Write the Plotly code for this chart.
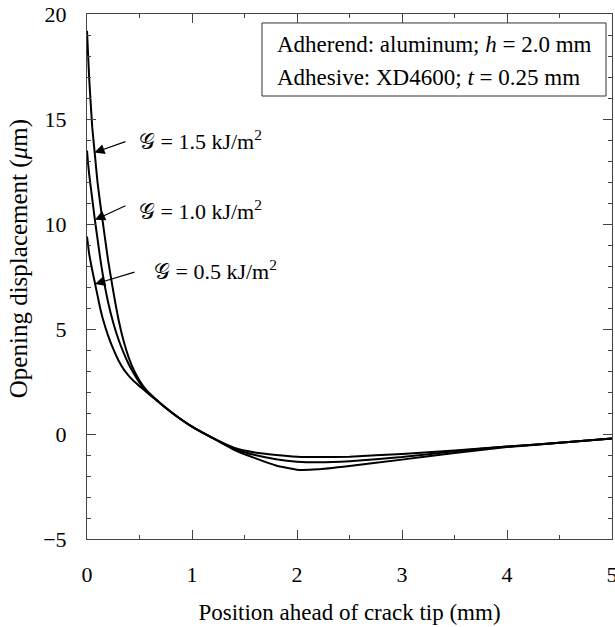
import plotly.graph_objects as go

# Position ahead of crack tip (mm)
x_pos = [0, 0.01, 0.02, 0.05, 0.075, 0.1, 0.125, 0.15, 0.2, 0.25, 0.3, 0.35, 0.4, 0.45, 0.5, 0.56,
         0.65, 0.8, 1.0, 1.2, 1.4, 1.6, 1.8, 2.0, 2.2, 2.5, 3.0, 3.5, 4.0, 4.5, 5.0]

# Opening displacement (um) for each energy release rate
g05 = [9.4, 9.0, 8.6, 7.8, 7.2, 6.6, 6.0, 5.5, 4.7, 4.05, 3.5, 3.08, 2.76, 2.5, 2.28, 2.03,
       1.65, 1.05, 0.35, -0.2, -0.65, -0.88, -1.0, -1.08, -1.1, -1.08, -0.95, -0.78, -0.6, -0.42, -0.22]
g10 = [13.5, 12.9, 12.4, 11.2, 10.2, 9.3, 8.4, 7.6, 6.3, 5.3, 4.5, 3.85, 3.3, 2.85, 2.45, 2.08,
       1.67, 1.05, 0.35, -0.2, -0.7, -1.0, -1.2, -1.32, -1.35, -1.3, -1.1, -0.82, -0.6, -0.42, -0.22]
g15 = [19.2, 18.1, 17.0, 14.6, 13.3, 12.0, 11.0, 10.1, 8.3, 6.8, 5.45, 4.4, 3.6, 3.0, 2.55, 2.12,
       1.68, 1.05, 0.35, -0.2, -0.75, -1.15, -1.5, -1.7, -1.68, -1.52, -1.22, -0.9, -0.62, -0.42, -0.22]

series_names = ["G = 0.5 kJ/m2", "G = 1.0 kJ/m2", "G = 1.5 kJ/m2"]
label_texts = ["𝒢 = 0.5 kJ/m<sup>2</sup>", "𝒢 = 1.0 kJ/m<sup>2</sup>", "𝒢 = 1.5 kJ/m<sup>2</sup>"]
label_pos = [(0.62, 7.8), (0.48, 10.67), (0.476, 14.0)]
arrow_tail = [(0.467, 7.73), (0.38, 10.9), (0.38, 13.95)]
arrow_tip = [(0.076, 7.14), (0.076, 10.2), (0.07, 13.4)]

FONT = "Liberation Serif"

fig = go.Figure()
for name, ys in zip(series_names, [g05, g10, g15]):
    fig.add_trace(go.Scatter(x=x_pos, y=ys, mode="lines", name=name,
                             line=dict(color="black", width=2, shape="spline", smoothing=0.4),
                             showlegend=False, hoverinfo="skip"))

annotations = []
for txt, (lx, ly), (tx, ty), (hx, hy) in zip(label_texts, label_pos, arrow_tail, arrow_tip):
    annotations.append(dict(x=lx, y=ly, xref="x", yref="y", text=txt, showarrow=False,
                            xanchor="left", yanchor="middle",
                            font=dict(family=FONT, size=22, color="black")))
    annotations.append(dict(x=hx, y=hy, ax=tx, ay=ty, xref="x", yref="y", axref="x", ayref="y",
                            text="", showarrow=True, arrowhead=2, arrowsize=1.7, arrowwidth=1.2,
                            arrowcolor="black", standoff=0, startstandoff=0))

annotations.append(dict(x=0.358, y=0.941, xref="paper", yref="paper", xanchor="left", yanchor="middle",
                        text="Adherend: aluminum; <i>h</i> = 2.0 mm", showarrow=False,
                        font=dict(family=FONT, size=23, color="black")))
annotations.append(dict(x=0.358, y=0.880, xref="paper", yref="paper", xanchor="left", yanchor="middle",
                        text="Adhesive: XD4600; <i>t</i> = 0.25 mm", showarrow=False,
                        font=dict(family=FONT, size=23, color="black")))
# y-axis title (placed as rotated text, slightly above the axis centre as in the original)
annotations.append(dict(x=-0.1295, y=0.533, xref="paper", yref="paper", xanchor="center", yanchor="middle",
                        text="Opening displacement (<i>μ</i>m)", textangle=-90, showarrow=False,
                        font=dict(family=FONT, size=25, color="black")))

fig.add_shape(type="rect", xref="paper", yref="paper", x0=0.3333, x1=0.9886, y0=0.8438, y1=0.9829,
              line=dict(color="#333", width=1), fillcolor="white", layer="below")

axis_common = dict(showgrid=False, zeroline=False, showline=True, linecolor="#444", linewidth=1,
                   mirror="allticks", ticks="inside", ticklen=9, tickwidth=1, tickcolor="#444",
                   automargin=False, ticklabeloverflow="allow",
                   tickfont=dict(family=FONT, size=22, color="black"))

fig.update_xaxes(range=[0, 5], dtick=1, tick0=0,
                 minor=dict(dtick=0.5, ticks="inside", ticklen=4, tickcolor="#444"),
                 ticklabelstandoff=16,
                 title=dict(text="Position ahead of crack tip (mm)", standoff=17,
                            font=dict(family=FONT, size=23, color="black")),
                 **axis_common)
fig.update_yaxes(range=[-5, 20], dtick=5, tick0=0,
                 minor=dict(dtick=1, ticks="inside", ticklen=4, tickcolor="#444"),
                 ticklabelstandoff=15,
                 **axis_common)

fig.update_layout(width=615, height=627, margin=dict(l=87, r=3, t=14, b=88),
                  plot_bgcolor="white", paper_bgcolor="white", hovermode=False,
                  annotations=annotations, font=dict(family=FONT, color="black"))

fig.write_html("out.html", config={"displayModeBar": False},
               post_script="document.body.style.margin='0';document.body.style.overflow='hidden';")
